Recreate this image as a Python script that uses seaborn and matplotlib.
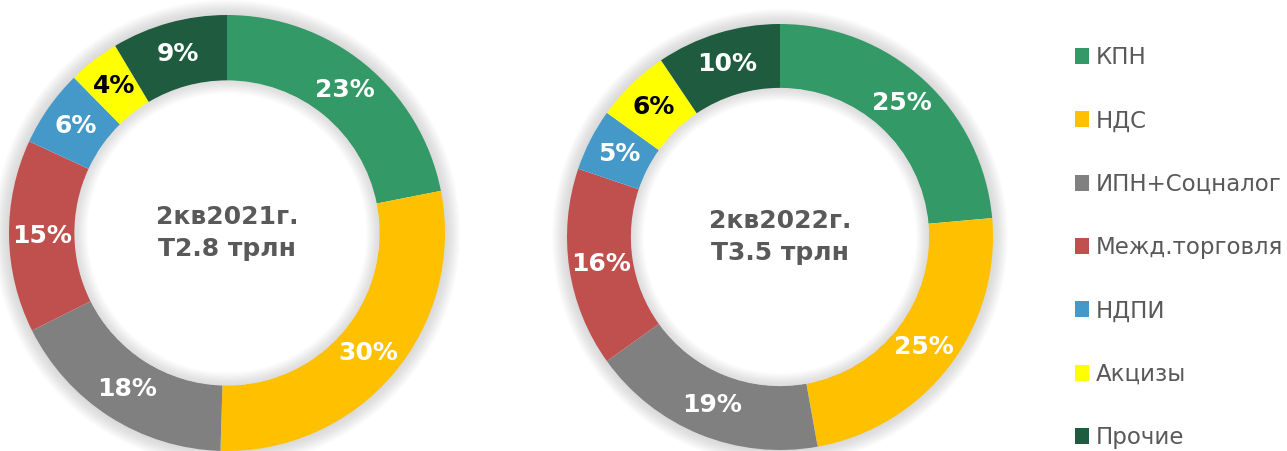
import matplotlib
matplotlib.use("Agg")
import matplotlib.pyplot as plt
from matplotlib.patches import Patch, Wedge
import seaborn as sns

# ---- data ----
categories = ["КПН", "НДС", "ИПН+Соцналог", "Межд.торговля", "НДПИ", "Акцизы", "Прочие"]
share_2021 = [23, 30, 18, 15, 6, 4, 9]
share_2022 = [25, 25, 19, 16, 5, 6, 10]
center_2021 = "2кв2021г.\nТ2.8 трлн"
center_2022 = "2кв2022г.\nТ3.5 трлн"
colors = ["#339966", "#FFC000", "#808080", "#C0504D", "#4599C8", "#FFFF00", "#1F5C3F"]
label_colors = ["white", "white", "white", "white", "white", "black", "white"]

sns.set_theme(style="white")
plt.rcParams["font.family"] = ["DejaVu Sans"]

W, H = 1287, 451
fig = plt.figure(figsize=(W / 100, H / 100), dpi=100)
fig.patch.set_facecolor("white")

INNER = 0.70


def donut(ax, values, center_text):
    ax.set_aspect("equal")
    ax.axis("off")
    # soft outer shadow (rings only)
    for i in range(14):
        w = 0.005 * (i + 1)
        ax.add_patch(Wedge((0, 0), 1.0 + w, 0, 360, width=w + 0.01, color="#7f7f7f",
                           alpha=0.02, lw=0, zorder=0, clip_on=False))
    it = iter(values)
    wedges, _, autotexts = ax.pie(
        values, colors=colors, startangle=90, counterclock=False,
        radius=1.0, wedgeprops=dict(width=1 - INNER, linewidth=0),
        autopct=lambda p: f"{next(it)}%", pctdistance=(1 + INNER) / 2,
    )
    for t, c in zip(autotexts, label_colors):
        t.set_color(c)
        t.set_fontweight("bold")
        t.set_fontsize(18)
    # inner shadow in the hole
    for i in range(12):
        ax.add_patch(Wedge((0, 0), INNER, 0, 360, width=0.005 * (i + 1),
                           color="#7f7f7f", alpha=0.02, lw=0, zorder=3))
    ax.set_xlim(-1.0, 1.0)
    ax.set_ylim(-1.0, 1.0)
    ax.text(0, 0, center_text, ha="center", va="center", fontsize=18,
            fontweight="bold", color="#595959", linespacing=1.45)
    return wedges


ax1 = fig.add_axes([9 / W, 0 / H, 436 / W, 436 / H])
donut(ax1, share_2021, center_2021)
ax2 = fig.add_axes([567 / W, 1 / H, 426 / W, 426 / H])
donut(ax2, share_2022, center_2022)

handles = [Patch(facecolor=c, edgecolor="none") for c in colors]
leg = fig.legend(handles, categories, loc="upper left",
                 bbox_to_anchor=(1075 / W, 1 - 46 / H), frameon=False,
                 fontsize=16.5, labelspacing=1.76, handlelength=0.62,
                 handleheight=0.7, handletextpad=0.3, borderaxespad=0,
                 borderpad=0)
for t in leg.get_texts():
    t.set_color("#595959")

fig.savefig("out.png", dpi=100, facecolor="white")
